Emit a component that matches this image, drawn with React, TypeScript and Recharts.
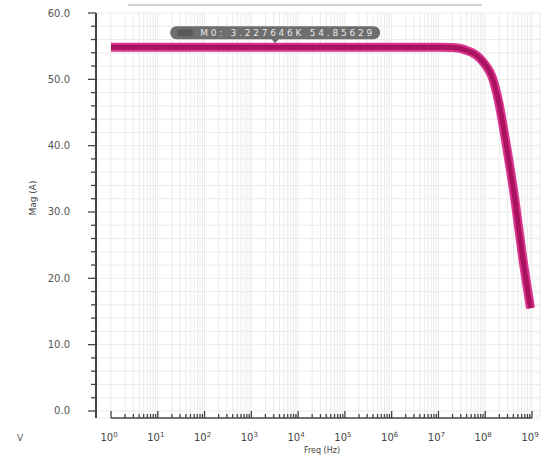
import {
  LineChart,
  Line,
  XAxis,
  YAxis,
  CartesianGrid,
  ReferenceLine,
  ReferenceDot,
} from 'recharts';

// frequency sweep (Hz) and magnitude
const freqHz = [
  1, 10, 100, 1e3, 1e4, 1e5, 1e6, 1e7, 2e7, 3.2e7, 4.2e7, 5.6e7, 7.6e7, 1e8,
  1.38e8, 1.86e8, 2.9e8, 4.3e8, 6.3e8, 9.3e8,
];
const magA = [
  54.85, 54.85, 54.85, 54.85, 54.85, 54.85, 54.85, 54.85, 54.8, 54.6, 54.3,
  53.9, 53.2, 52.2, 50.5, 47.2, 39.6, 31.9, 23.2, 15.5,
];

const decades = [1, 10, 100, 1e3, 1e4, 1e5, 1e6, 1e7, 1e8, 1e9];
const decadeExp = ['0', '1', '2', '3', '4', '5', '6', '7', '8', '9'];
const yMajor = [0, 10, 20, 30, 40, 50, 60];
const yTicks = [
  0, 2, 4, 6, 8, 10, 12, 14, 16, 18, 20, 22, 24, 26, 28, 30, 32, 34, 36, 38, 40,
  42, 44, 46, 48, 50, 52, 54, 56, 58, 60,
];
const minorMult = [1, 2, 3, 4, 5, 6, 7, 8, 9];

const markerFreq = 3227.6;
const markerMag = 54.85;
const markerText = 'M0: 3.227646K 54.85629';

const Y_MIN = -1.06;

const data = freqHz.map((f, i) => ({ f, mag: magA[i] }));
const xTicks = decades
  .slice(0, -1)
  .flatMap(d => minorMult.map(m => d * m))
  .concat([1e9]);

function XTick(props: { x?: number; y?: number; payload?: { value: number } }) {
  const { x = 0, y = 0, payload } = props;
  const v = payload?.value ?? 0;
  const idx = decades.findIndex(d => Math.abs(d - v) / v < 1e-6);
  const major = idx >= 0;
  return (
    <g>
      <line x1={x} x2={x} y1={y} y2={y - (major ? 7 : 4)} stroke="#444" strokeWidth={1.3} />
      {major && (
        <text x={x - 2} y={y + 23} textAnchor="middle" fontSize={10} fill="#444" fontFamily="DejaVu Sans">
          10
          <tspan dy={-4} fontSize={7}>
            {decadeExp[idx]}
          </tspan>
        </text>
      )}
    </g>
  );
}

function YTick(props: { x?: number; y?: number; payload?: { value: number } }) {
  const { x = 0, y = 0, payload } = props;
  const v = payload?.value ?? 0;
  const major = yMajor.includes(v);
  return (
    <g>
      <line x1={x} x2={x - (major ? 8 : 5)} y1={y} y2={y} stroke="#444" strokeWidth={1.3} />
      {major && (
        <text x={x - 26} y={y} textAnchor="end" dominantBaseline="central" fontSize={10} fill="#555" fontFamily="DejaVu Sans">
          {v.toFixed(1)}
        </text>
      )}
    </g>
  );
}

function MarkerTag(props: { cx?: number; cy?: number }) {
  const { cx = 0, cy = 0 } = props;
  return (
    <g>
      <rect x={cx - 105} y={cy - 21} width={210} height={13} rx={6.5} fill="#6e6e6e" />
      <rect x={cx - 98} y={cy - 18} width={16} height={7} rx={3} fill="#5a5a5a" />
      <path d={`M${cx - 4},${cy - 8.5} L${cx + 4},${cy - 8.5} L${cx},${cy - 4} Z`} fill="#6e6e6e" />
      <text
        x={cx - 75}
        y={cy - 14.5}
        dominantBaseline="central"
        fontSize={9}
        fill="#e6e6e6"
        fontFamily="DejaVu Sans"
        textLength={172}
        lengthAdjust="spacing"
      >
        {markerText}
      </text>
    </g>
  );
}

export default function App() {
  return (
    <div style={{ position: 'absolute', left: 0, top: 0, width: 551, height: 456, background: '#fff' }}>
      <div style={{ position: 'absolute', left: 128, top: 4, width: 354, height: 2, background: '#d2d2d2' }} />
      <div
        style={{
          position: 'absolute',
          left: 17,
          top: 433,
          fontSize: 9,
          color: '#555',
          fontFamily: 'DejaVu Sans',
        }}
      >
        V
      </div>
      <LineChart width={551} height={456} data={data} margin={{ top: 13, right: 11, bottom: 0, left: 0 }}>
        <CartesianGrid stroke="#ebebeb" strokeWidth={1} />
        <XAxis
          dataKey="f"
          type="number"
          scale="log"
          domain={[1, 1e9]}
          ticks={xTicks}
          interval={0}
          padding={{ left: 15, right: 8 }}
          height={38}
          axisLine={false}
          tickLine={false}
          tickSize={0}
          tickMargin={0}
          tick={<XTick />}
          label={{ value: 'Freq (Hz)', position: 'insideBottom', offset: 3, dx: 4, fontSize: 8, fill: '#444', fontFamily: 'DejaVu Sans' }}
        />
        <YAxis
          type="number"
          domain={[Y_MIN, 60]}
          ticks={yTicks}
          interval={0}
          width={96}
          axisLine={{ stroke: '#444', strokeWidth: 2 }}
          tickLine={false}
          tickSize={0}
          tickMargin={0}
          tick={<YTick />}
          label={{ value: 'Mag (A)', angle: -90, position: 'insideLeft', offset: 33, fontSize: 9, fill: '#444', fontFamily: 'DejaVu Sans' }}
        />
        <ReferenceLine
          segment={[
            { x: 1, y: Y_MIN },
            { x: 1e9, y: Y_MIN },
          ]}
          stroke="#444"
          strokeWidth={1.5}
        />
        <Line
          dataKey="mag"
          type="monotone"
          stroke="#dc3590"
          strokeWidth={9}
          dot={false}
          isAnimationActive={false}
        />
        <Line
          dataKey="mag"
          type="monotone"
          stroke="#a8125f"
          strokeWidth={5}
          dot={false}
          isAnimationActive={false}
        />
        <ReferenceDot x={markerFreq} y={markerMag} r={0} shape={<MarkerTag />} />
      </LineChart>
    </div>
  );
}
